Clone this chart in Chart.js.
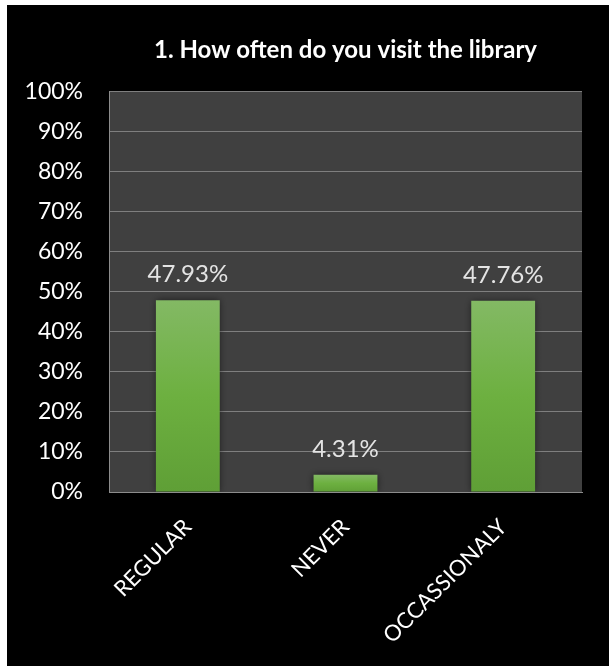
<!DOCTYPE html>
<html>
<head>
<meta charset="utf-8">
<script src="https://cdn.jsdelivr.net/npm/chart.js@4.4.1/dist/chart.umd.min.js"></script>
<style>
  html, body { margin: 0; padding: 0; background: #ffffff; }
  #box { position: absolute; left: 7px; top: 5px; width: 602px; height: 661px; background: #000000; }
</style>
</head>
<body>
<div id="box"><canvas id="barChart"></canvas></div>
<script>
const chartTitle = "1. How often do you visit the library";
const categories = ["REGULAR", "NEVER", "OCCASSIONALY"];
const percentages = [47.93, 4.31, 47.76];
const yTicks = [0, 10, 20, 30, 40, 50, 60, 70, 80, 90, 100];

const FONT = "Lato, 'Open Sans', sans-serif";

// plot background + bar labels
const plotBackground = {
  id: "plotBackground",
  beforeDraw(chart) {
    const { ctx, chartArea } = chart;
    ctx.save();
    ctx.fillStyle = "#404040";
    ctx.fillRect(chartArea.left, chartArea.top, chartArea.right - chartArea.left, chartArea.bottom - chartArea.top);
    ctx.restore();
  },
  beforeDatasetsDraw(chart) {
    chart.ctx.save();
    chart.ctx.shadowColor = "rgba(0,0,0,0.55)";
    chart.ctx.shadowBlur = 7;
  },
  afterDatasetsDraw(chart) {
    const ctx = chart.ctx;
    ctx.restore();
    const meta = chart.getDatasetMeta(0);
    ctx.save();
    ctx.fillStyle = "#e4e4e4";
    ctx.font = "24px " + FONT;
    ctx.textAlign = "center";
    ctx.textBaseline = "alphabetic";
    meta.data.forEach((bar, i) => {
      ctx.fillText(percentages[i].toFixed(2) + "%", bar.x, bar.y - 18);
    });
    ctx.restore();
  },
};

function barGradient(context) {
  const chart = context.chart;
  if (!chart.chartArea || !chart.scales.y) return "#6aac3e";
  const y = chart.scales.y;
  const top = y.getPixelForValue(context.raw);
  const base = y.getPixelForValue(0);
  const g = chart.ctx.createLinearGradient(0, top, 0, base);
  g.addColorStop(0, "#83b964");
  g.addColorStop(0.5, "#6db040");
  g.addColorStop(1, "#5f9f36");
  return g;
}

new Chart(document.getElementById("barChart"), {
  type: "bar",
  data: {
    labels: categories,
    datasets: [
      {
        data: percentages,
        backgroundColor: barGradient,
        borderWidth: 0,
        barPercentage: 0.81,
        categoryPercentage: 0.5,
      },
    ],
  },
  options: {
    responsive: true,
    maintainAspectRatio: false,
    animation: false,
    layout: { padding: { left: 0, right: 27, top: 0, bottom: 0 } },
    plugins: {
      legend: { display: false },
      tooltip: { enabled: false },
      title: {
        display: true,
        text: chartTitle,
        color: "#ffffff",
        fullSize: false,
        font: { family: FONT, size: 24, weight: "bold" },
        padding: { top: 31, bottom: 27 },
      },
    },
    scales: {
      y: {
        min: 0,
        max: 100,
        afterBuildTicks: (scale) => {
          scale.ticks = yTicks.map((v) => ({ value: v }));
        },
        afterFit: (scale) => {
          scale.width = 102;
        },
        ticks: {
          color: "#ffffff",
          font: { family: FONT, size: 23 },
          padding: 26,
          callback: (v) => v + "%",
        },
        grid: { color: "#7f7f7f", lineWidth: 1, drawTicks: false },
        border: { color: "#8c8c8c", width: 1 },
      },
      x: {
        afterFit: (scale) => {
          scale.height = 174;
        },
        ticks: {
          color: "#ffffff",
          font: { family: FONT, size: 22 },
          minRotation: 45,
          maxRotation: 45,
          padding: 22,
        },
        grid: { display: false, drawTicks: false },
        border: { color: "#8c8c8c", width: 1 },
      },
    },
  },
  plugins: [plotBackground],
});
</script>
</body>
</html>
